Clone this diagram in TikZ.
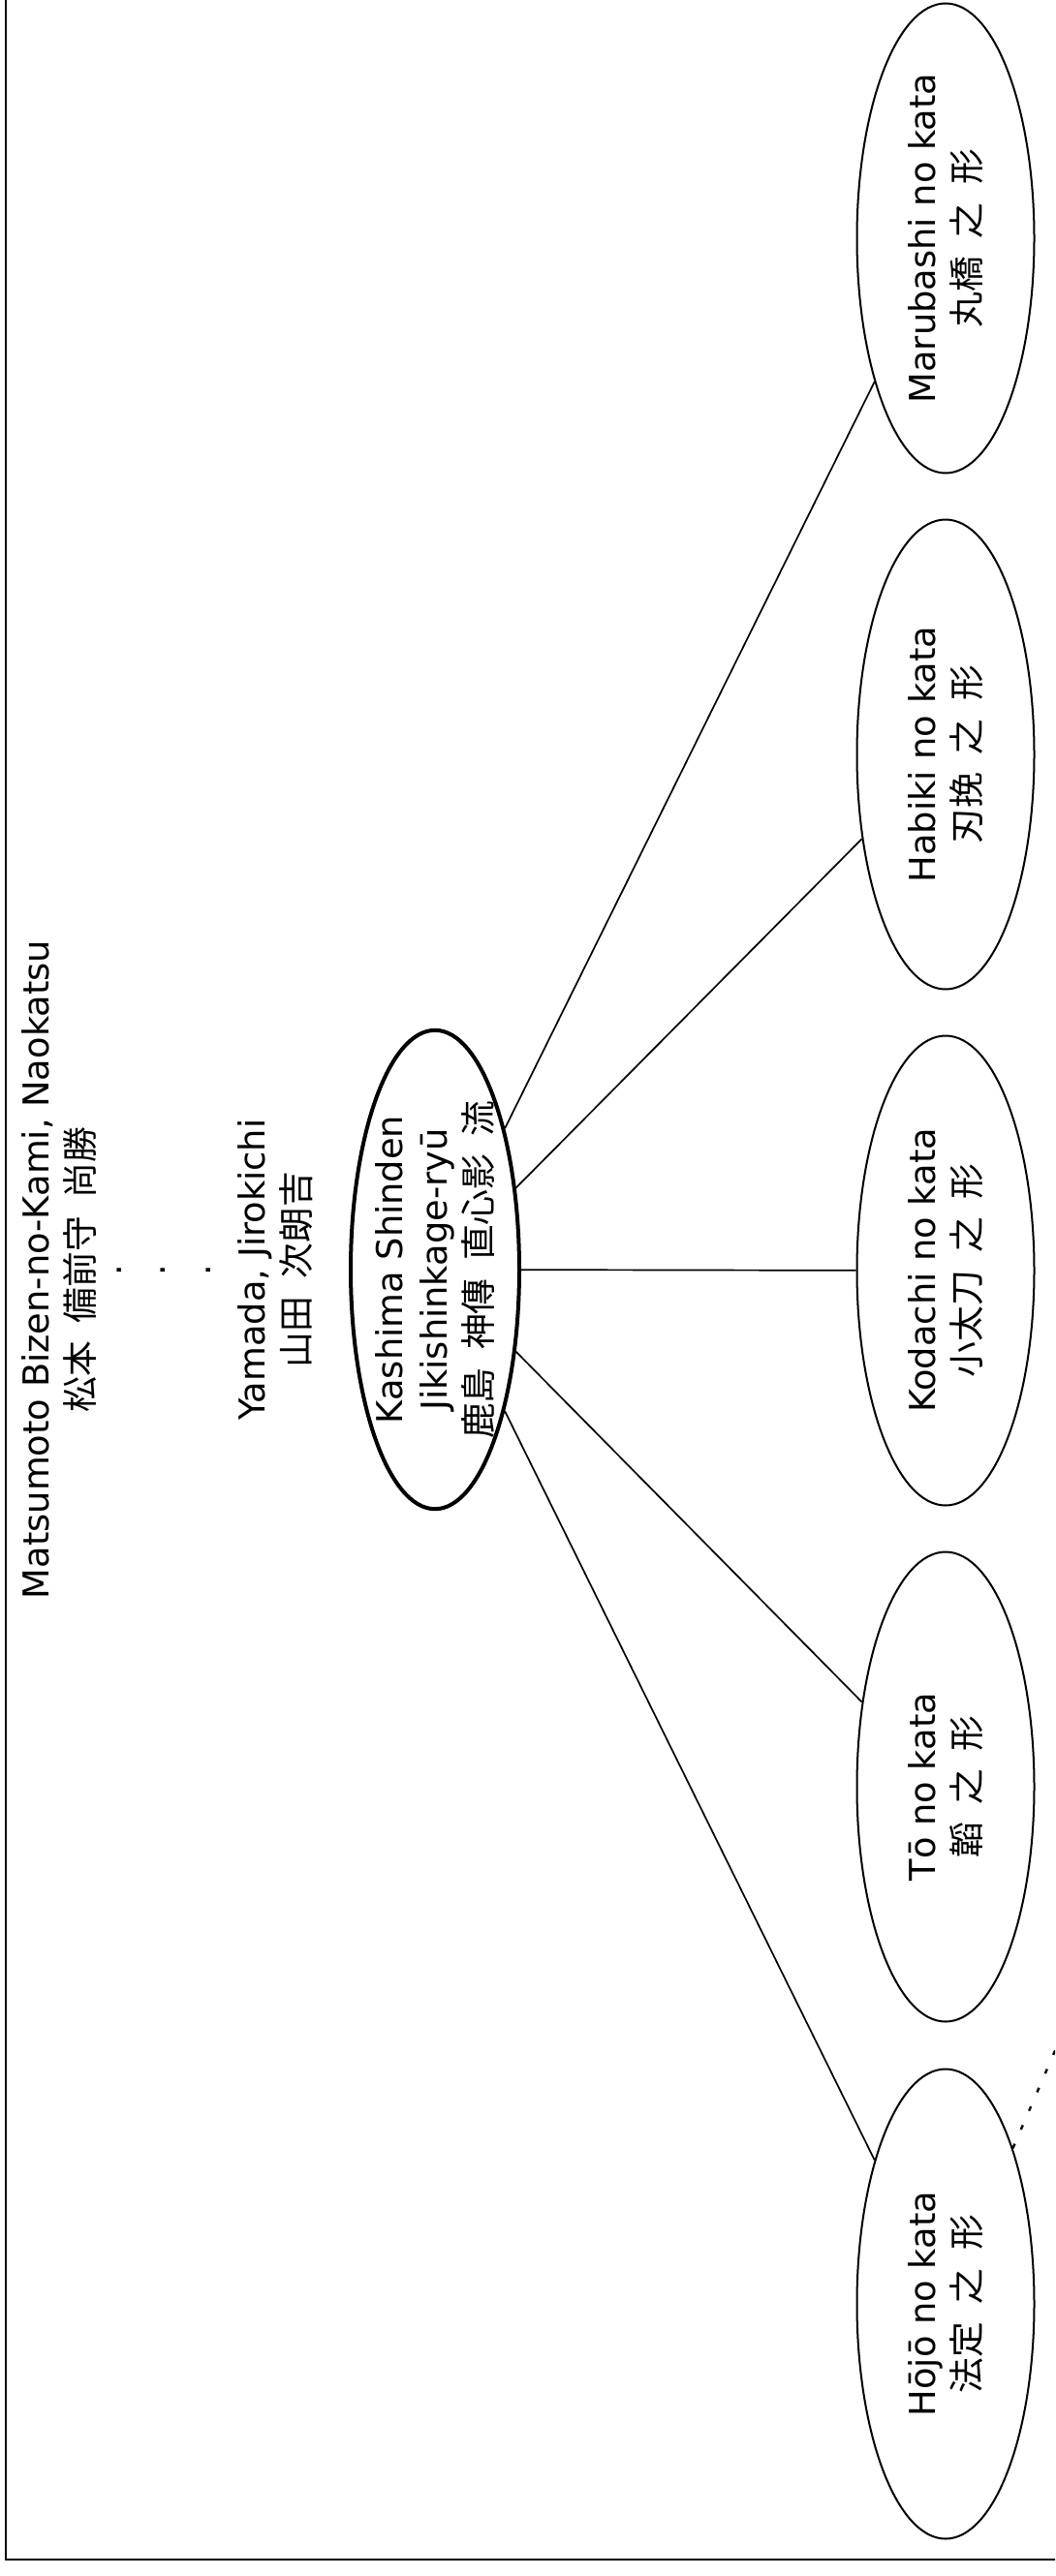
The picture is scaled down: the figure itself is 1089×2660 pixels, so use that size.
\documentclass[tikz,border=0pt]{standalone}
\usepackage{fontspec}
\setmainfont{DejaVu Sans}
\newfontfamily\cjk{Noto Sans CJK JP}
\usetikzlibrary{shapes.geometric}
\newcommand{\js}{\hspace{0.5em}}
\begin{document}
\begin{tikzpicture}[x=0.5pt,y=-0.5pt,
  txt/.style={font=\fontsize{18.4}{23.2}\selectfont, align=center, rotate=90, inner sep=0pt},
  kata/.style={txt, ellipse, draw, line width=1pt, minimum width=242.5pt, minimum height=91.5pt},
  school/.style={kata, line width=2pt, minimum width=241pt, minimum height=87pt, inner ysep=-3pt},
  conn/.style={line width=0.85pt},
  dotconn/.style={line width=1.2pt, dash pattern=on 2.5pt off 8pt},
  frame/.style={line width=1.4pt}]
\useasboundingbox (0,0) rectangle (1089,2660);
\clip (0,0) rectangle (1089,2660);
\draw[frame] (6,-20) -- (6,2643) -- (1120,2643);

\node[txt] (matsu) at (61,1311) {Matsumoto Bizen-no-Kami, Naokatsu\\{\cjk 松本\js 備前守\js 尚勝}};
\node[txt] (d1) at (123,1312) {.};
\node[txt] (d2) at (168,1312) {.};
\node[txt] (d3) at (215,1312) {.};
\node[txt] (yama) at (284,1311) {Yamada, Jirokichi\\{\cjk 山田\js 次朗吉}};

\node[school] (ksj) at (449,1311) {Kashima Shinden\\Jikishinkage-ryū\\{\cjk 鹿島\js 神傳\js 直心影\js 流}};

\node[kata] (maru) at (976,246) {Marubashi no kata\\{\cjk 丸橋\js 之\js 形}};
\node[kata] (habiki) at (976,779) {Habiki no kata\\{\cjk 刃挽\js 之\js 形}};
\node[kata] (kodachi) at (976,1312) {Kodachi no kata\\{\cjk 小太刀\js 之\js 形}};
\node[kata] (to) at (976,1845) {Tō no kata\\{\cjk 韜\js 之\js 形}};
\node[kata] (hojo) at (976,2379) {Hōjō no kata\\{\cjk 法定\js 之\js 形}};

\draw[conn] (ksj) -- (maru);
\draw[conn] (ksj) -- (habiki);
\draw[conn] (ksj) -- (kodachi);
\draw[conn] (ksj) -- (to);
\draw[conn] (ksj) -- (hojo);

\coordinate (off) at (1145,1988);
\draw[dotconn] (hojo) -- (off);
\end{tikzpicture}
\end{document}
